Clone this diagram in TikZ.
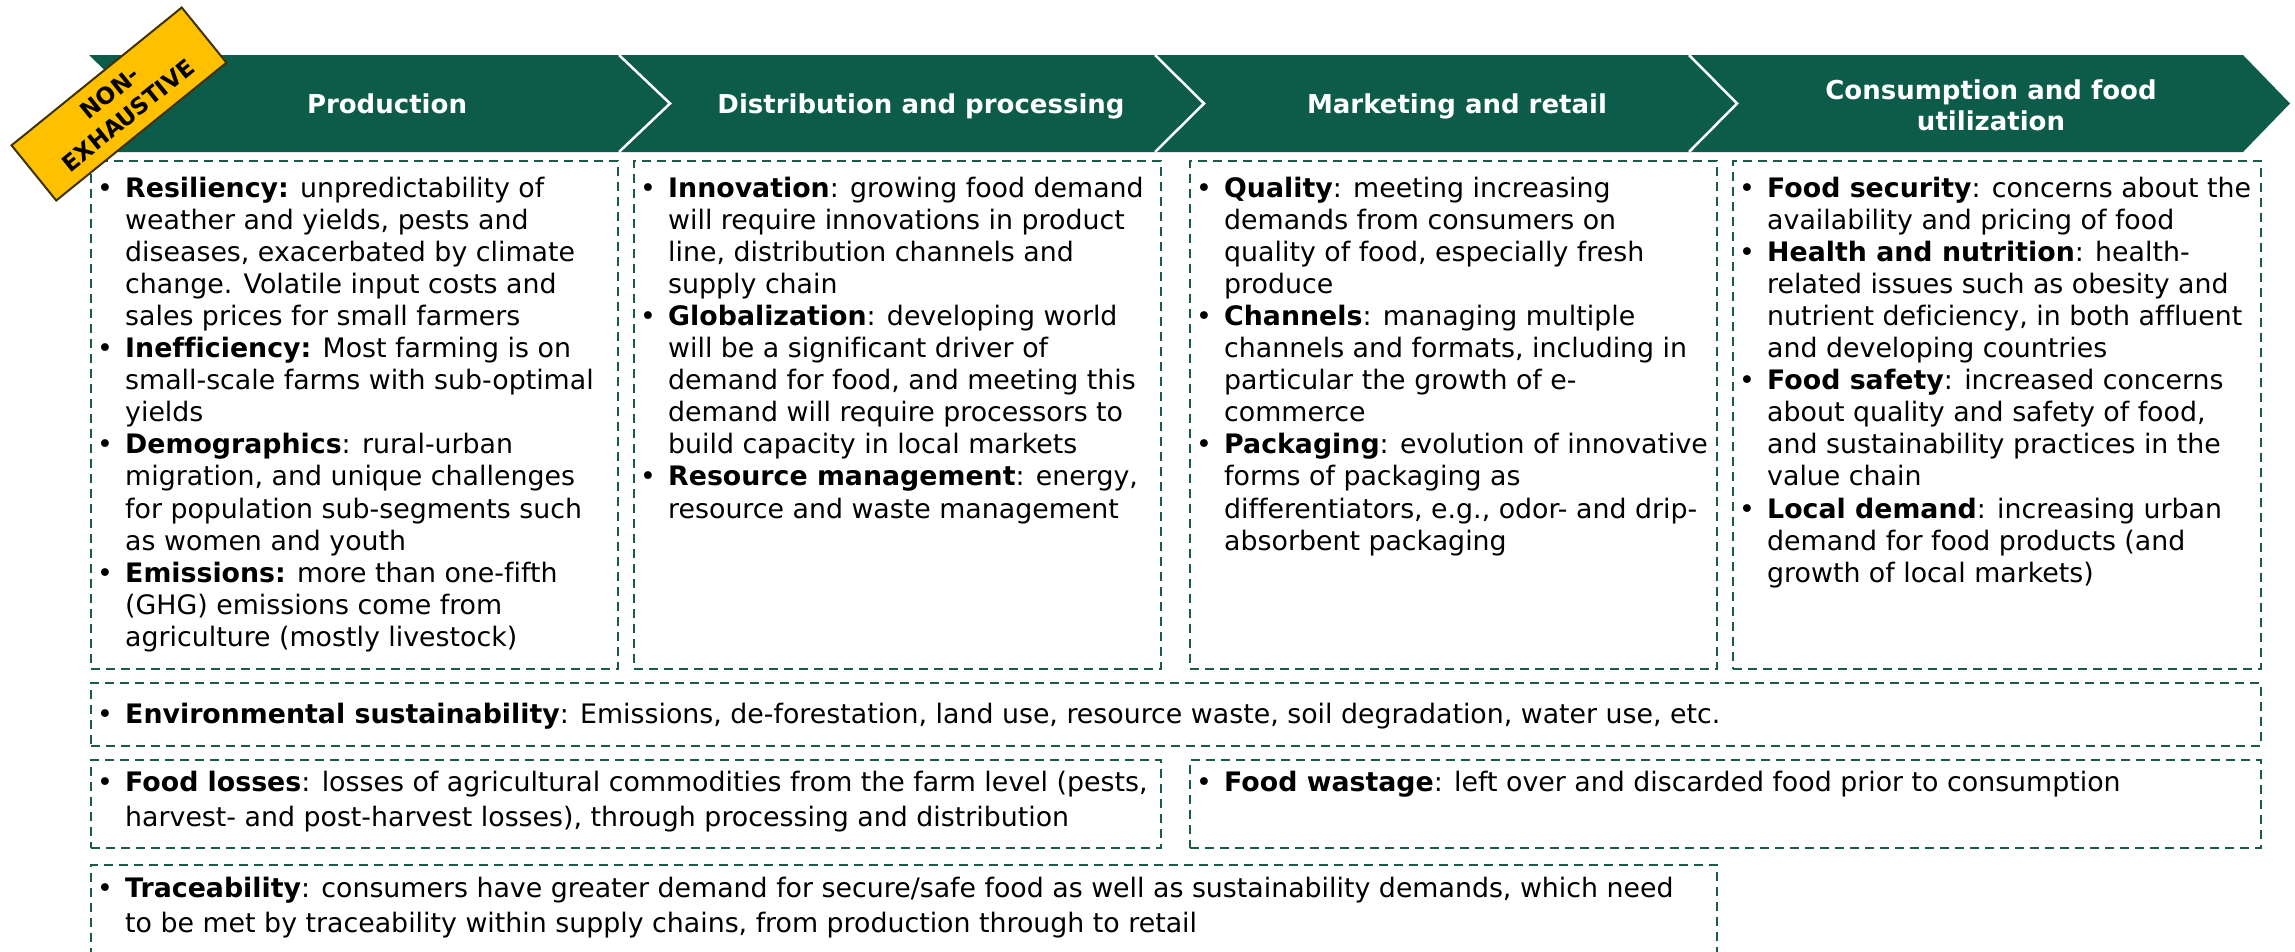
\documentclass[tikz,border=0pt]{standalone}
\usepackage{fontspec}
\setmainfont{DejaVu Sans}[Ligatures=NoCommon]
\definecolor{bandg}{HTML}{0D5B49}
\definecolor{dashg}{HTML}{1B5A4A}
\definecolor{badgey}{HTML}{FFC000}
\definecolor{badgeb}{HTML}{3D3200}
\newcommand{\bodyfont}{\fontsize{26.8}{32.1}\selectfont}
\newcommand{\lowfont}{\fontsize{26.8}{35}\selectfont}
\newcommand{\hdrfont}{\fontsize{26}{30}\selectfont\bfseries}
\newcommand{\bl}[2]{\hbox{\makebox[34pt][l]{\hspace{6pt}•}\textbf{#1}#2}}
\newcommand{\cl}[1]{\hbox{\hspace*{34pt}#1}}
\newcommand{\colt}[1]{\vtop{#1}}
\tikzset{
  dbox/.style={draw=dashg, line width=1.8pt, dash pattern=on 9pt off 6pt,
    anchor=north west, inner sep=0pt, outer sep=0pt},
  hdr/.style={text=white, font=\hdrfont, anchor=base, inner sep=0pt},
  btxt/.style={anchor=base west, inner sep=0pt, font=\bodyfont, text=black},
  ltxt/.style={anchor=base west, inner sep=0pt, font=\lowfont, text=black},
  sepline/.style={draw=white, line width=2.5pt},
  badge/.style={rotate=39, fill=badgey, draw=badgeb, line width=2pt,
    minimum width=219pt, minimum height=71pt, inner sep=0pt, align=center,
    font=\fontsize{23}{29}\selectfont\bfseries, text=black}
}
\begin{document}
\begin{tikzpicture}[x=1pt,y=-1pt]
\useasboundingbox (0,0) rectangle (2295,951);
% chevron band
\fill[bandg] (89,55) -- (2243,55) -- (2290,103.5) -- (2243,152) -- (89,152) -- (139,103.5) -- cycle;
\draw[sepline] (619,55) -- (670,103.5) -- (619,152);
\draw[sepline] (1155,55) -- (1204,103.5) -- (1155,152);
\draw[sepline] (1689,55) -- (1737,103.5) -- (1689,152);
\node[hdr] (h1) at (387,113) {Production};
\node[hdr] (h2) at (921,113) {Distribution and processing};
\node[hdr] (h3) at (1457,113) {Marketing and retail};
\node[hdr] (h4a) at (1991,99) {Consumption and food};
\node[hdr] (h4b) at (1991,130) {utilization};
% dashed boxes
\node[dbox, minimum width=527pt, minimum height=508pt] (c1) at (91,161) {};
\node[dbox, minimum width=527pt, minimum height=508pt] (c2) at (634,161) {};
\node[dbox, minimum width=527pt, minimum height=508pt] (c3) at (1190,161) {};
\node[dbox, minimum width=528pt, minimum height=508pt] (c4) at (1733,161) {};
\node[dbox, minimum width=2170pt, minimum height=63pt] (env) at (91,683) {};
\node[dbox, minimum width=1070pt, minimum height=88pt] (loss) at (91,760) {};
\node[dbox, minimum width=1071pt, minimum height=88pt] (waste) at (1190,760) {};
\node[dbox, minimum width=1626pt, minimum height=130pt] (trace) at (91,865) {};
% column texts
\node[btxt] (t1) at (91,197) {\colt{%
\bl{Resiliency:}{ unpredictability of}
\cl{weather and yields, pests and}
\cl{diseases, exacerbated by climate}
\cl{change. Volatile input costs and}
\cl{sales prices for small farmers}
\bl{Inefficiency:}{ Most farming is on}
\cl{small-scale farms with sub-optimal}
\cl{yields}
\bl{Demographics}{: rural-urban}
\cl{migration, and unique challenges}
\cl{for population sub-segments such}
\cl{as women and youth}
\bl{Emissions:}{ more than one-fifth}
\cl{(GHG) emissions come from}
\cl{agriculture (mostly livestock)}}};
\node[btxt] (t2) at (634,197) {\colt{%
\bl{Innovation}{: growing food demand}
\cl{will require innovations in product}
\cl{line, distribution channels and}
\cl{supply chain}
\bl{Globalization}{: developing world}
\cl{will be a significant driver of}
\cl{demand for food, and meeting this}
\cl{demand will require processors to}
\cl{build capacity in local markets}
\bl{Resource management}{: energy,}
\cl{resource and waste management}}};
\node[btxt] (t3) at (1190,197) {\colt{%
\bl{Quality}{: meeting increasing}
\cl{demands from consumers on}
\cl{quality of food, especially fresh}
\cl{produce}
\bl{Channels}{: managing multiple}
\cl{channels and formats, including in}
\cl{particular the growth of e-}
\cl{commerce}
\bl{Packaging}{: evolution of innovative}
\cl{forms of packaging as}
\cl{differentiators, e.g., odor- and drip-}
\cl{absorbent packaging}}};
\node[btxt] (t4) at (1733,197) {\colt{%
\bl{Food security}{: concerns about the}
\cl{availability and pricing of food}
\bl{Health and nutrition}{: health-}
\cl{related issues such as obesity and}
\cl{nutrient deficiency, in both affluent}
\cl{and developing countries}
\bl{Food safety}{: increased concerns}
\cl{about quality and safety of food,}
\cl{and sustainability practices in the}
\cl{value chain}
\bl{Local demand}{: increasing urban}
\cl{demand for food products (and}
\cl{growth of local markets)}}};
% lower texts
\node[btxt] (tenv) at (91,723) {\colt{%
\bl{Environmental sustainability}{: Emissions, de-forestation, land use, resource waste, soil degradation, water use, etc.}}};
\node[ltxt] (tloss) at (91,791) {\colt{%
\bl{Food losses}{: losses of agricultural commodities from the farm level (pests,}
\cl{harvest- and post-harvest losses), through processing and distribution}}};
\node[ltxt] (twaste) at (1190,791) {\colt{%
\bl{Food wastage}{: left over and discarded food prior to consumption}}};
\node[ltxt] (ttrace) at (91,897) {\colt{%
\bl{Traceability}{: consumers have greater demand for secure/safe food as well as sustainability demands, which need}
\cl{to be met by traceability within supply chains, from production through to retail}}};
% badge
\node[badge] (nx) at (119,104) {NON-\\EXHAUSTIVE};
\end{tikzpicture}
\end{document}
